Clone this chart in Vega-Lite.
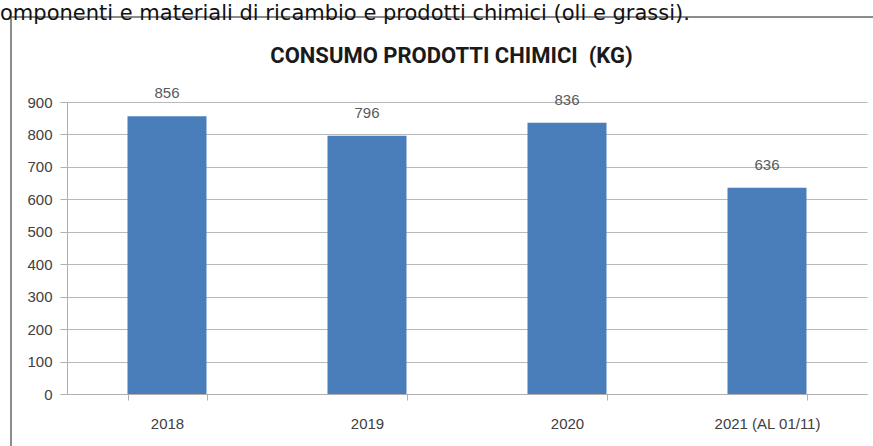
{
  "$schema": "https://vega.github.io/schema/vega-lite/v6.json",
  "autosize": {"type": "none"},
  "padding": {"left": 11, "top": 17, "right": 0, "bottom": 0},
  "width": 866,
  "height": 433,
  "background": "white",
  "title": {
    "text": "omponenti e materiali di ricambio e prodotti chimici (oli e grassi).",
    "anchor": "start",
    "frame": "group",
    "dx": -11,
    "offset": -23.5,
    "baseline": "alphabetic",
    "font": "DejaVu Sans",
    "fontSize": 21,
    "fontWeight": "normal",
    "color": "#111111"
  },
  "config": {
    "view": {"stroke": "#8c8c8c", "strokeWidth": 2},
    "axis": {
      "labelFont": "Liberation Sans",
      "labelFontSize": 15,
      "labelColor": "#404040",
      "domainColor": "#b0b0b0",
      "tickColor": "#b0b0b0",
      "gridColor": "#b8b8b8"
    }
  },
  "data": {
    "values": [
      {"anno": "2018", "kg": 856},
      {"anno": "2019", "kg": 796},
      {"anno": "2020", "kg": 836},
      {"anno": "2021 (AL 01/11)", "kg": 636}
    ]
  },
  "encoding": {
    "x": {
      "field": "anno",
      "type": "nominal",
      "sort": null,
      "scale": {"range": [56, 856], "paddingInner": 0.605, "paddingOuter": 0.3025},
      "axis": {
        "offset": -56,
        "labelAngle": 0,
        "tickBand": "extent",
        "tickSize": 6,
        "labelPadding": 16,
        "grid": false,
        "title": "CONSUMO PRODOTTI CHIMICI\u00a0 (KG)",
        "titleFont": "Roboto",
        "titleFontSize": 22,
        "titleFontWeight": "bold",
        "titleColor": "#1a1a1a",
        "titleX": 440,
        "titleY": -332,
        "titleAlign": "center",
        "titleBaseline": "alphabetic"
      }
    },
    "y": {
      "field": "kg",
      "type": "quantitative",
      "scale": {"domain": [0, 900], "range": [377, 85], "nice": false},
      "axis": {
        "offset": -56,
        "values": [0, 100, 200, 300, 400, 500, 600, 700, 800, 900],
        "tickSize": 7,
        "labelPadding": 8,
        "title": null,
        "grid": true
      }
    }
  },
  "layer": [
    {"mark": {"type": "bar", "color": "#4a7ebb"}},
    {
      "mark": {
        "type": "text",
        "baseline": "bottom",
        "dy": -15,
        "font": "Liberation Sans",
        "fontSize": 15,
        "color": "#595959"
      },
      "encoding": {"text": {"field": "kg", "type": "quantitative"}}
    }
  ]
}
